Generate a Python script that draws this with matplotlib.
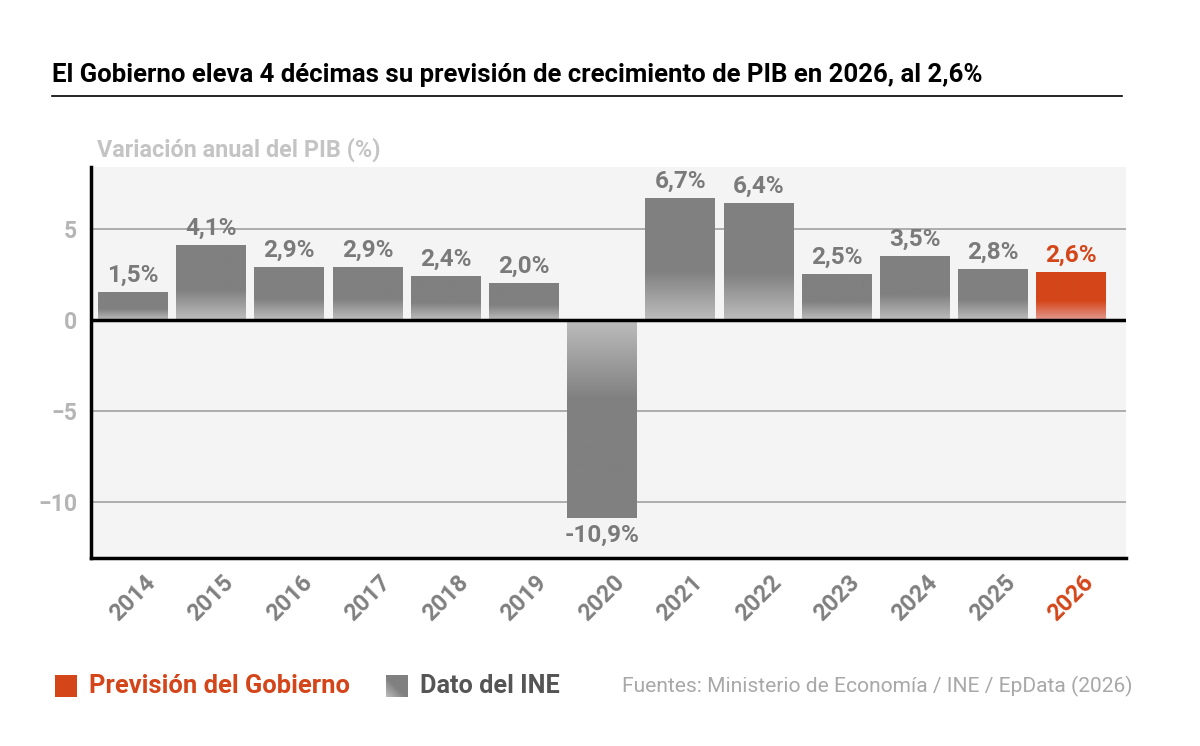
import numpy as np
import matplotlib
matplotlib.use('Agg')
import matplotlib.pyplot as plt
import matplotlib.transforms as mtransforms
from matplotlib.colors import LinearSegmentedColormap

plt.rcParams['font.family'] = ['Roboto', 'DejaVu Sans']

years = ['2014', '2015', '2016', '2017', '2018', '2019', '2020',
         '2021', '2022', '2023', '2024', '2025', '2026']
growth = [1.5, 4.1, 2.9, 2.9, 2.4, 2.0, -10.9, 6.7, 6.4, 2.5, 3.5, 2.8, 2.6]
labels = ['1,5%', '4,1%', '2,9%', '2,9%', '2,4%', '2,0%', '-10,9%',
          '6,7%', '6,4%', '2,5%', '3,5%', '2,8%', '2,6%']
forecast = [False] * 12 + [True]

GRAY = '#808080'
GRAY_LIGHT = '#bdbdbd'
ORANGE = '#d4461a'
ORANGE_LIGHT = '#e39a90'

fig = plt.figure(figsize=(12, 7.46), dpi=100)
ax = fig.add_axes([91 / 1200, 1 - 558 / 746, (1126 - 91) / 1200, (558 - 167) / 746])
ax.set_facecolor('#f4f4f4')

ax.set_xlim(-0.537, 12.70)
ax.set_ylim(-13.1, 8.4)

width = 0.895
for i, (v, f) in enumerate(zip(growth, forecast)):
    full, light = (ORANGE, ORANGE_LIGHT) if f else (GRAY, GRAY_LIGHT)
    cmap = LinearSegmentedColormap.from_list('g', [light, full, full], N=256)
    # gradient runs from the zero line over the first 40% of the bar
    t = np.linspace(0, 1, 200)
    grad = np.clip(t / 0.4, 0, 1) * 0.5
    img = grad.reshape(-1, 1)
    x0, x1 = i - width / 2, i + width / 2
    if v >= 0:
        ax.imshow(img, cmap=cmap, vmin=0, vmax=1, aspect='auto', origin='lower',
                  extent=[x0, x1, 0, v], zorder=2)
    else:
        ax.imshow(img, cmap=cmap, vmin=0, vmax=1, aspect='auto', origin='upper',
                  extent=[x0, x1, v, 0], zorder=2)
    col = ORANGE if f else '#7a7a7a'
    if v >= 0:
        ax.text(i, v + 0.3, labels[i], ha='center', va='bottom', fontsize=17.5,
                fontweight='bold', color=col, zorder=4)
    else:
        ax.text(i, v - 0.3, labels[i], ha='center', va='top', fontsize=17.5,
                fontweight='bold', color=col, zorder=4)

ax.set_yticks([-10, -5, 0, 5])
ax.set_yticklabels(['\u221210', '\u22125', '0', '5'])
ax.yaxis.grid(True, color='#a0a0a0', linewidth=1.2, zorder=1)
ax.set_axisbelow(True)
ax.axhline(0, color='black', linewidth=2.5, zorder=3)
ax.tick_params(axis='y', length=0, pad=10, labelsize=16.5, labelcolor='#b5b5b5')
for lab in ax.get_yticklabels():
    lab.set_fontweight('bold')

ax.set_xticks(range(len(years)))
ax.set_xticklabels(years, rotation=45, ha='right', rotation_mode='anchor')
ax.tick_params(axis='x', length=0, pad=9, labelsize=17, labelcolor='#808080')
shift = mtransforms.ScaledTranslation(0.11, 0, fig.dpi_scale_trans)
for lab, f in zip(ax.get_xticklabels(), forecast):
    lab.set_fontweight('bold')
    lab.set_transform(lab.get_transform() + shift)
    if f:
        lab.set_color(ORANGE)

for s in ['top', 'right']:
    ax.spines[s].set_visible(False)
ax.spines['left'].set_linewidth(2.5)
ax.spines['bottom'].set_linewidth(2.5)

# title and subtitle
fig.text(52 / 1200, 1 - 75 / 746,
         'El Gobierno eleva 4 décimas su previsión de crecimiento de PIB en 2026, al 2,6%',
         fontsize=18.5, fontweight='bold', color='black', va='center', ha='left')
fig.add_artist(plt.Line2D([52 / 1200, 1122 / 1200], [1 - 96 / 746, 1 - 96 / 746],
                          color='black', linewidth=1.2))
fig.text(97 / 1200, 1 - 150 / 746, 'Variación anual del PIB (%)', fontsize=16.8,
         fontweight='bold', color='#c4c4c4', va='center', ha='left')

# legend
lax1 = fig.add_axes([55 / 1200, 1 - 697 / 746, 22 / 1200, 22 / 746])
lax1.imshow([[0]], cmap=LinearSegmentedColormap.from_list('o', [ORANGE, ORANGE]),
            aspect='auto')
lax1.axis('off')
fig.text(89 / 1200, 1 - 686 / 746, 'Previsión del Gobierno', fontsize=18.4,
         fontweight='bold', color=ORANGE, va='center', ha='left')

lax2 = fig.add_axes([386 / 1200, 1 - 697 / 746, 22 / 1200, 22 / 746])
xx, yy = np.meshgrid(np.linspace(0, 1, 50), np.linspace(0, 1, 50))
diag = np.clip(((1 - xx) + yy) - 1.1, 0, 1) / 0.9
lax2.imshow(diag, cmap=LinearSegmentedColormap.from_list('d', [GRAY, GRAY_LIGHT]),
            aspect='auto', vmin=0, vmax=1)
lax2.axis('off')
fig.text(420 / 1200, 1 - 686 / 746, 'Dato del INE', fontsize=18.2,
         fontweight='bold', color='#555555', va='center', ha='left')

fig.text(1133 / 1200, 1 - 686 / 746,
         'Fuentes: Ministerio de Economía / INE / EpData (2026)', fontsize=15.1,
         color='#a8a8a8', va='center', ha='right')

fig.savefig('out.png', dpi=100, facecolor='white')
